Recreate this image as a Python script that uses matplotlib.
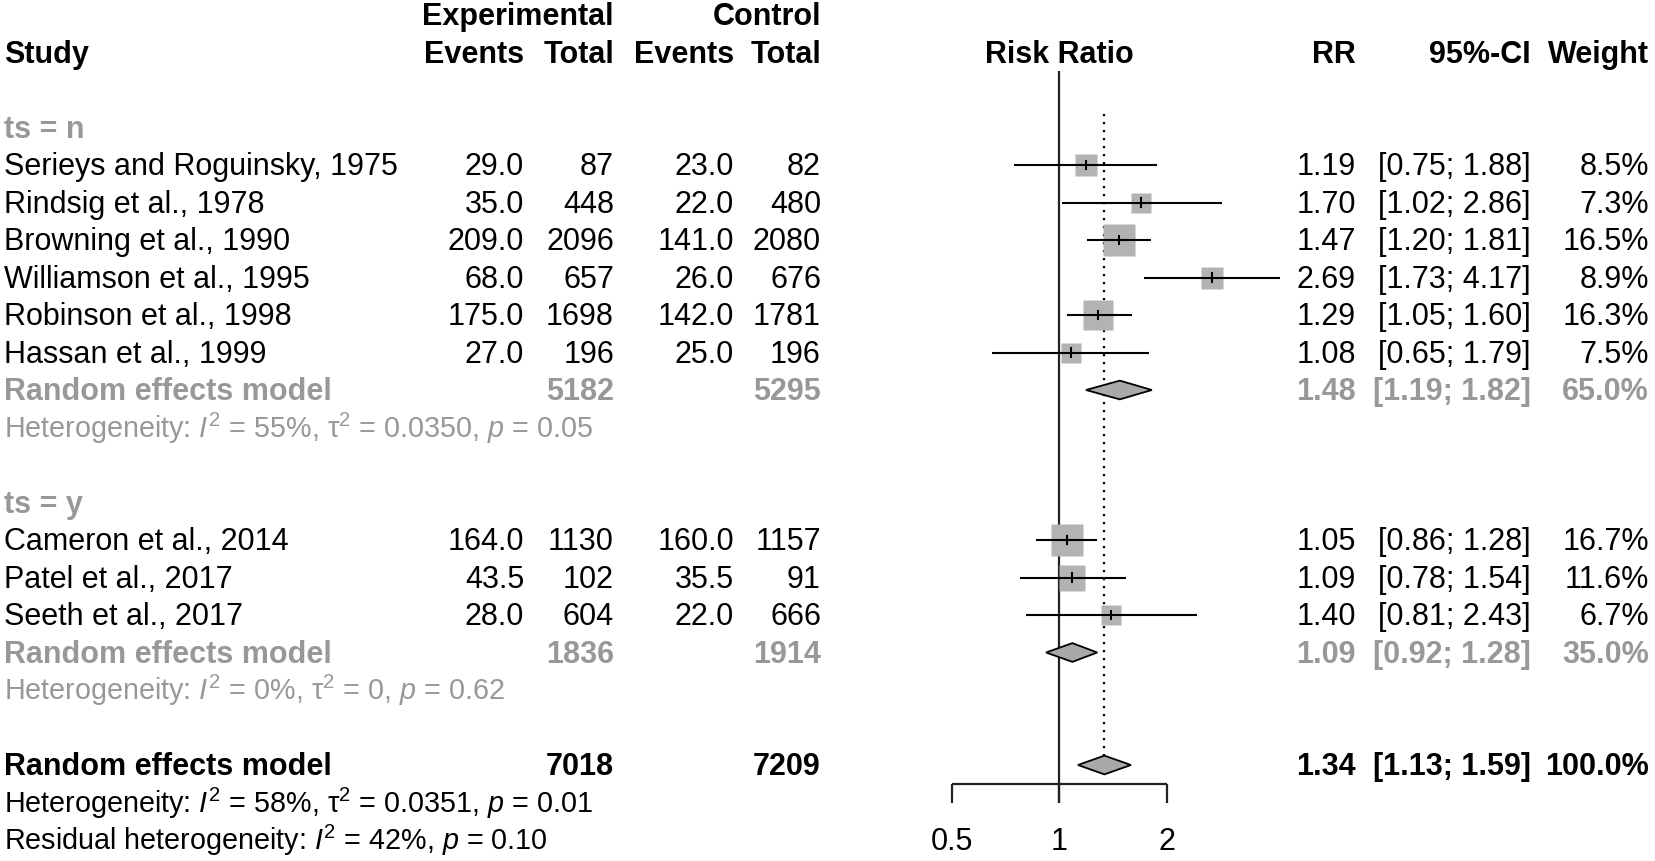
import numpy as np
import matplotlib.pyplot as plt
from matplotlib.patches import Polygon

plt.rcParams['font.family'] = ['Liberation Sans', 'DejaVu Sans']
plt.rcParams['mathtext.fontset'] = 'custom'
plt.rcParams['mathtext.rm'] = 'Liberation Sans'
plt.rcParams['mathtext.it'] = 'Liberation Sans:italic'
plt.rcParams['mathtext.bf'] = 'Liberation Sans:bold'

# study level data
studies = ["Serieys and Roguinsky, 1975", "Rindsig et al., 1978", "Browning et al., 1990",
           "Williamson et al., 1995", "Robinson et al., 1998", "Hassan et al., 1999",
           "Cameron et al., 2014", "Patel et al., 2017", "Seeth et al., 2017"]
group = ["n", "n", "n", "n", "n", "n", "y", "y", "y"]
ev_exp = [29.0, 35.0, 209.0, 68.0, 175.0, 27.0, 164.0, 43.5, 28.0]
n_exp = [87, 448, 2096, 657, 1698, 196, 1130, 102, 604]
ev_ctl = [23.0, 22.0, 141.0, 26.0, 142.0, 25.0, 160.0, 35.5, 22.0]
n_ctl = [82, 480, 2080, 676, 1781, 196, 1157, 91, 666]
rr = [1.19, 1.70, 1.47, 2.69, 1.29, 1.08, 1.05, 1.09, 1.40]
ci_lo = [0.75, 1.02, 1.20, 1.73, 1.05, 0.65, 0.86, 0.78, 0.81]
ci_hi = [1.88, 2.86, 1.81, 4.17, 1.60, 1.79, 1.28, 1.54, 2.43]
weight = [8.5, 7.3, 16.5, 8.9, 16.3, 7.5, 16.7, 11.6, 6.7]

# subgroup summaries
sub_names = ["n", "y"]
sub_rr = [1.48, 1.09]
sub_lo = [1.19, 0.92]
sub_hi = [1.82, 1.28]
sub_w = [65.0, 35.0]
sub_nexp = [5182, 1836]
sub_nctl = [5295, 1914]
sub_het = [r"Heterogeneity: $I^2$ = 55%, τ$^2$ = 0.0350, $p$ = 0.05",
           r"Heterogeneity: $I^2$ = 0%, τ$^2$ = 0, $p$ = 0.62"]

# overall
all_rr, all_lo, all_hi, all_w = 1.34, 1.13, 1.59, 100.0
all_nexp, all_nctl = 7018, 7209
all_het = r"Heterogeneity: $I^2$ = 58%, τ$^2$ = 0.0351, $p$ = 0.01"
resid_het = r"Residual heterogeneity: $I^2$ = 42%, $p$ = 0.10"
ticks = [0.5, 1, 2]

GRAY = '#989898'
SQ = '#b3b3b3'
DIA = '#a9a9a9'
FS = 22
FS_B = 22
FS_HET = 20.7

W, H = 1655, 862
Y0, DY = 128.5, 37.5  # pixel position of row 0, row height
fig = plt.figure(figsize=(W / 100, H / 100), dpi=100)
ax = fig.add_axes([0, 0, 1, 1])
ax.set_xlim(0, W)
ax.set_ylim((H - Y0) / DY, -Y0 / DY)
ax.axis('off')

# forest panel: log2 scale, rr=1 at x=1059 px, one doubling = 107.5 px
fx0, fx1 = 880, 1300
fax = fig.add_axes([fx0 / W, 0, (fx1 - fx0) / W, 1], sharey=ax)
fax.set_xscale('log', base=2)
fax.set_xlim(2 ** ((fx0 - 1059) / 107.5), 2 ** ((fx1 - 1059) / 107.5))
fax.axis('off')
fax.patch.set_alpha(0)

BL = 0.25  # baseline offset in rows
col_ee, col_et, col_ce, col_ct = 524, 614, 734, 821
col_rr, col_ci, col_w = 1356, 1531, 1649


def txt(x, row, s, ha='right', color='black', bold=False, size=None):
    if size is None:
        size = FS_B if bold else FS
    ax.text(x, row + BL, s, ha=ha, va='baseline', fontsize=size,
            color=color, fontweight='bold' if bold else 'normal')


# header
txt(4, -2, "Study", ha='left', bold=True)
txt(col_et, -3, "Experimental", bold=True)
txt(col_ct, -3, "Control", bold=True)
for x, s in [(col_ee, "Events"), (col_et, "Total"), (col_ce, "Events"), (col_ct, "Total")]:
    txt(x, -2, s, bold=True)
ax.text(1059, -2 + BL, "Risk Ratio", ha='center', va='baseline', fontsize=FS_B,
        fontweight='bold')
txt(col_rr, -2, "RR", bold=True)
txt(col_ci, -2, "95%-CI", bold=True)
txt(col_w, -2, "Weight", bold=True)

row = 0
for g, name in enumerate(sub_names):
    txt(4, row, "ts = " + name, ha='left', color=GRAY, bold=True)
    row += 1
    for i in [k for k in range(len(studies)) if group[k] == name]:
        txt(4, row, studies[i], ha='left')
        txt(col_ee, row, "%.1f" % ev_exp[i])
        txt(col_et, row, "%d" % n_exp[i])
        txt(col_ce, row, "%.1f" % ev_ctl[i])
        txt(col_ct, row, "%d" % n_ctl[i])
        txt(col_rr, row, "%.2f" % rr[i])
        txt(col_ci, row, "[%.2f; %.2f]" % (ci_lo[i], ci_hi[i]))
        txt(col_w, row, "%.1f%%" % weight[i])
        fax.plot([ci_lo[i], ci_hi[i]], [row, row], color='black', lw=1.5, zorder=3,
                 solid_capstyle='butt')
        side = 7.65 * np.sqrt(weight[i]) * 0.72
        fax.plot(rr[i], row, marker='s', ms=side, mec='none', mfc=SQ, zorder=2)
        fax.plot([rr[i], rr[i]], [row - 0.11, row + 0.11], color='black', lw=1.5, zorder=4)
        row += 1
    txt(4, row, "Random effects model", ha='left', color=GRAY, bold=True)
    txt(col_et, row, "%d" % sub_nexp[g], color=GRAY, bold=True)
    txt(col_ct, row, "%d" % sub_nctl[g], color=GRAY, bold=True)
    txt(col_rr, row, "%.2f" % sub_rr[g], color=GRAY, bold=True)
    txt(col_ci, row, "[%.2f; %.2f]" % (sub_lo[g], sub_hi[g]), color=GRAY, bold=True)
    txt(col_w, row, "%.1f%%" % sub_w[g], color=GRAY, bold=True)
    fax.add_patch(Polygon([(sub_lo[g], row), (sub_rr[g], row - 0.25), (sub_hi[g], row),
                           (sub_rr[g], row + 0.25)], closed=True, fc=DIA, ec='black',
                          lw=1.3, zorder=3))
    row += 1
    txt(4, row, sub_het[g], ha='left', color=GRAY, size=FS_HET)
    row += 2

# overall
txt(4, row, "Random effects model", ha='left', bold=True)
txt(col_et, row, "%d" % all_nexp, bold=True)
txt(col_ct, row, "%d" % all_nctl, bold=True)
txt(col_rr, row, "%.2f" % all_rr, bold=True)
txt(col_ci, row, "[%.2f; %.2f]" % (all_lo, all_hi), bold=True)
txt(col_w, row, "%.1f%%" % all_w, bold=True)
fax.add_patch(Polygon([(all_lo, row), (all_rr, row - 0.25), (all_hi, row),
                       (all_rr, row + 0.25)], closed=True, fc=DIA, ec='black',
                      lw=1.3, zorder=3))
txt(4, row + 1, all_het, ha='left', size=FS_HET)
txt(4, row + 2, resid_het, ha='left', size=FS_HET)

# reference lines and axis
axis_row = row + 0.5
tick_len = 0.5
fax.plot([1, 1], [-1.5, axis_row + tick_len], color='#222222', lw=1.6, zorder=1,
         solid_capstyle='butt')
fax.plot([all_rr, all_rr], [-0.35, row - 0.25], color='black', lw=1.6,
         linestyle=(0, (1, 2.6)), zorder=1)
fax.plot([ticks[0], ticks[-1]], [axis_row, axis_row], color='#222222', lw=1.6,
         solid_capstyle='butt')
for t in ticks:
    fax.plot([t, t], [axis_row, axis_row + tick_len], color='#222222', lw=1.6,
             solid_capstyle='butt')
    fax.text(t, row + 2 + BL, "%g" % t, ha='center', va='baseline', fontsize=FS)

fig.savefig('out.png', dpi=100)
